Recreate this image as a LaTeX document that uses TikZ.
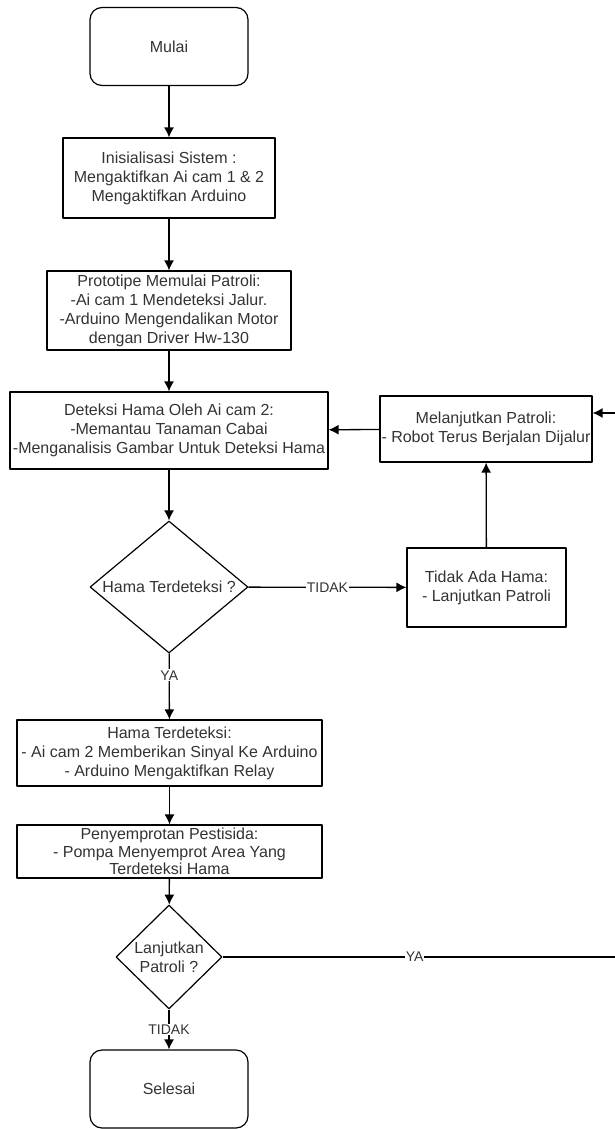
\documentclass[tikz,border=0pt]{standalone}
\usepackage{fontspec}
\setmainfont{Liberation Sans}
\usetikzlibrary{shapes.geometric,arrows.meta}
\definecolor{textcol}{rgb}{0.2,0.2,0.2}
\begin{document}
\begin{tikzpicture}[>={Latex[length=10pt,width=10pt]},line join=bevel,x=1pt,y=-1pt,
  every node/.style={text=textcol,font=\fontsize{16}{19}\selectfont},
  terminal/.style={draw=black,line width=1.2pt,rounded corners=12pt,minimum width=158pt,minimum height=78pt,inner sep=0pt},
  process/.style={draw=black,line width=1.2pt,align=center,inner sep=0pt},
  decision/.style={draw=black,line width=1.2pt,diamond,align=center,inner sep=0pt},
  edgelabel/.style={fill=white,inner sep=1pt,font=\fontsize{14}{16}\selectfont},
  flow/.style={->,line width=1.3pt}]
\useasboundingbox (0,0) rectangle (615,1129);
  % Node: mulai
  \node[terminal] (mulai) at (169,46.5) {Mulai};
  % Node: inisialisasi
  \node[process,minimum width=212pt,minimum height=80pt] (inisialisasi) at (169,178)
    {Inisialisasi Sistem :\\Mengaktifkan Ai cam 1 \& 2\\Mengaktifkan Arduino};
  % Node: prototipe
  \node[process,minimum width=244pt,minimum height=79pt] (prototipe) at (169,310.5)
    {Prototipe Memulai Patroli:\\-Ai cam 1 Mendeteksi Jalur.\\-Arduino Mengendalikan Motor\\dengan Driver Hw-130};
  % Node: deteksi
  \node[process,minimum width=318pt,minimum height=77pt] (deteksi) at (169,430.5)
    {Deteksi Hama Oleh Ai cam 2:\\-Memantau Tanaman Cabai\\-Menganalisis Gambar Untuk Deteksi Hama};
  % Node: melanjutkan
  \node[process,minimum width=212pt,minimum height=66pt] (melanjutkan) at (486,429)
    {Melanjutkan Patroli:\\- Robot Terus Berjalan Dijalur};
  % Node: cek_hama
  \node[decision,aspect=1.2,minimum width=158pt,minimum height=132pt] (cek_hama) at (169,587)
    {Hama Terdeteksi ?};
  % Node: tidak_ada
  \node[process,minimum width=159pt,minimum height=79pt] (tidak_ada) at (486.5,587.5)
    {Tidak Ada Hama:\\- Lanjutkan Patroli};
  % Node: hama_terdeteksi
  \node[process,minimum width=305pt,minimum height=66pt] (hama_terdeteksi) at (169.5,753)
    {Hama Terdeteksi:\\- Ai cam 2 Memberikan Sinyal Ke Arduino\\- Arduino Mengaktifkan Relay};
  % Node: penyemprotan
  \node[process,minimum width=305pt,minimum height=53pt,font=\fontsize{16}{17.5}\selectfont] (penyemprotan) at (169.5,851.5)
    {Penyemprotan Pestisida:\\- Pompa Menyemprot Area Yang\\Terdeteksi Hama};
  % Node: cek_lanjut
  \node[decision,aspect=1,minimum width=106pt,minimum height=104pt] (cek_lanjut) at (169,957)
    {Lanjutkan\\Patroli ?};
  % Node: selesai
  \node[terminal] (selesai) at (169,1089) {Selesai};
  \coordinate (loop_corner) at (640,413);
  % Edge: mulai -> inisialisasi
  \draw[flow] (mulai) -- (inisialisasi);
  % Edge: inisialisasi -> prototipe
  \draw[flow] (inisialisasi) -- (prototipe);
  % Edge: prototipe -> deteksi
  \draw[flow] (prototipe) -- (deteksi);
  % Edge: deteksi -> cek_hama
  \draw[flow] (deteksi) -- (cek_hama);
  % Edge: cek_hama -> tidak_ada
  \draw[flow] (cek_hama) -- node[edgelabel] {TIDAK} (tidak_ada);
  % Edge: tidak_ada -> melanjutkan
  \draw[flow] (tidak_ada) -- (melanjutkan);
  % Edge: melanjutkan -> deteksi
  \draw[flow] (melanjutkan) -- (deteksi);
  % Edge: cek_hama -> hama_terdeteksi
  \draw[flow] (cek_hama) -- node[edgelabel,pos=0.33] {YA} (hama_terdeteksi);
  % Edge: hama_terdeteksi -> penyemprotan
  \draw[flow] (hama_terdeteksi) -- (penyemprotan);
  % Edge: penyemprotan -> cek_lanjut
  \draw[flow] (penyemprotan) -- (cek_lanjut);
  % Edge: cek_lanjut -> selesai
  \draw[flow] (cek_lanjut) -- node[edgelabel] {TIDAK} (selesai);
  % Edge: cek_lanjut -> melanjutkan
  \draw[flow] (cek_lanjut.east) -- node[edgelabel,pos=0.46] {YA} (cek_lanjut.east -| loop_corner)
    -- (loop_corner) -- (melanjutkan.east |- loop_corner);
%
\end{tikzpicture}
\end{document}
